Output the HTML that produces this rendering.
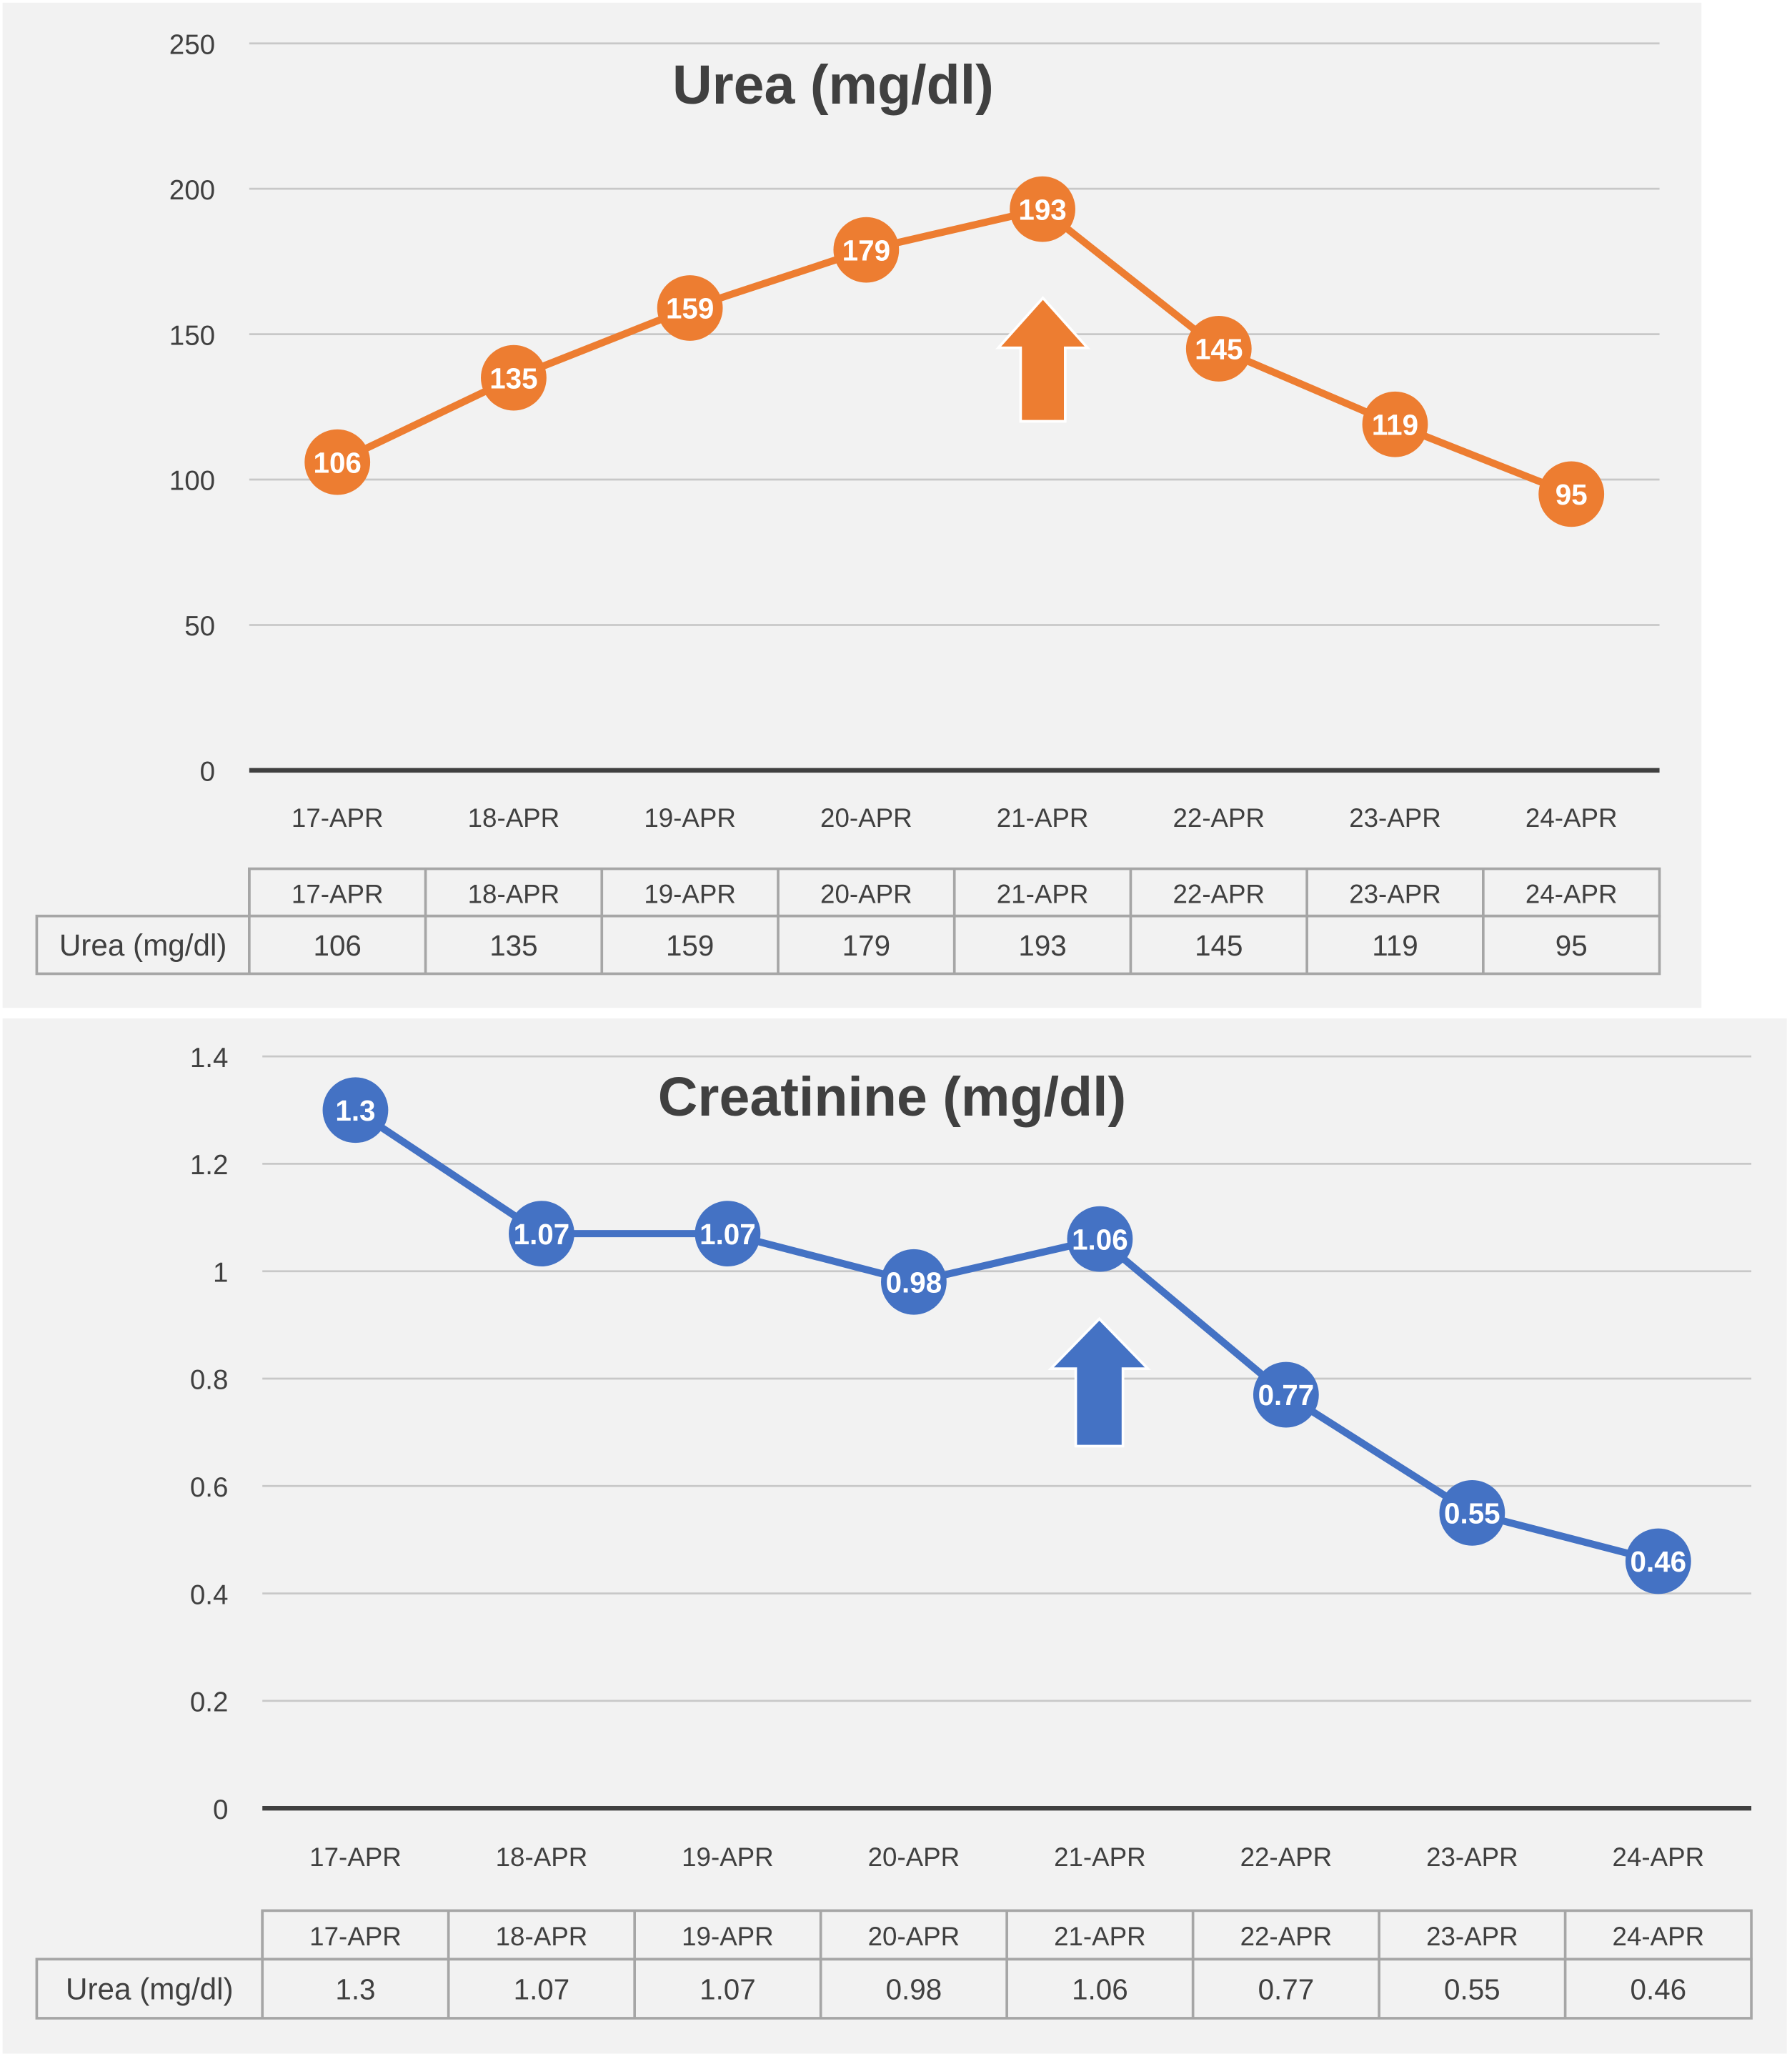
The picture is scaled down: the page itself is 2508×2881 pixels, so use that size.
<!DOCTYPE html>
<html><head><meta charset="utf-8"><style>
html,body{margin:0;padding:0;background:#fff}
svg{display:block}
text{font-family:"Liberation Sans",sans-serif}
</style></head><body>
<svg id="s" width="2508" height="2881" viewBox="0 0 1366 1569" xmlns="http://www.w3.org/2000/svg">
<rect x="0" y="0" width="1366" height="1569" fill="#fff"/>
<rect x="2" y="2" width="1295" height="766" fill="#f2f2f2"/>
<rect x="2" y="776" width="1360" height="789" fill="#f2f2f2"/>
<g id="g1"></g>
<g id="g2"></g>
</svg>
<script>
const dates = ["17-APR","18-APR","19-APR","20-APR","21-APR","22-APR","23-APR","24-APR"];
const ureaValues = [106,135,159,179,193,145,119,95];
const ureaLabels = ["106","135","159","179","193","145","119","95"];
const ureaTicks = [0,50,100,150,200,250];
const creatValues = [1.3,1.07,1.07,0.98,1.06,0.77,0.55,0.46];
const creatLabels = ["1.3","1.07","1.07","0.98","1.06","0.77","0.55","0.46"];
const creatTicks = [0,0.2,0.4,0.6,0.8,1.0,1.2,1.4];
const creatTickLabels = ["0","0.2","0.4","0.6","0.8","1","1.2","1.4"];
const NS="http://www.w3.org/2000/svg";
function mk(p,tag,a,txt){const e=document.createElementNS(NS,tag);for(const k in a)e.setAttribute(k,a[k]);if(txt!==undefined)e.textContent=txt;p.appendChild(e);return e;}
function draw(g,o){
  const y=v=>o.y0-(v-o.vmin)/(o.vmax-o.vmin)*(o.y0-o.y1);
  const bw=(o.x1-o.x0)/o.cats.length;
  const x=i=>o.x0+bw*(i+0.5);
  o.ticks.forEach((t,i)=>{
    if(t!==o.vmin){const l=mk(g,'line',{x1:o.x0,x2:o.x1,y1:y(t),y2:y(t),stroke:'#c8c8c8','stroke-width':1.5});
    
    }
    const tx=mk(g,'text',{x:o.x0-26,y:y(t)+8,'text-anchor':'end','font-size':21,fill:'#404040'},o.tickLabels[i]);
    
    
  });
  const ax=mk(g,'line',{x1:o.x0,x2:o.x1,y1:y(o.vmin),y2:y(o.vmin),stroke:'#404040','stroke-width':3.5});
  
  
  const tt=mk(g,'text',{x:o.tx,y:o.ty,'text-anchor':'middle','font-size':42,'font-weight':'bold',fill:'#404040'},o.title);
  
  
  // arrow
  const ah=o.arrow;
  const ar=mk(g,'polygon',{points:`${ah.cx},${ah.top} ${ah.cx+ah.hw},${ah.top+ah.hh} ${ah.cx+ah.sw},${ah.top+ah.hh} ${ah.cx+ah.sw},${ah.bot} ${ah.cx-ah.sw},${ah.bot} ${ah.cx-ah.sw},${ah.top+ah.hh} ${ah.cx-ah.hw},${ah.top+ah.hh}`,fill:o.color,stroke:'#fff','stroke-width':2});
  
  
  const pl=mk(g,'polyline',{points:o.vals.map((v,i)=>x(i)+','+y(v)).join(' '),fill:'none',stroke:o.color,'stroke-width':5.5,'stroke-linejoin':'round'});
  
  
  o.vals.forEach((v,i)=>{
    const c=mk(g,'circle',{cx:x(i),cy:y(v),r:25,fill:o.color});
    
    
    const t=mk(g,'text',{x:x(i),y:y(v)+8,'text-anchor':'middle','font-size':22,'font-weight':'bold',fill:'#fff'},o.labels[i]);
    
    
  });
  o.cats.forEach((c,i)=>{
    const t=mk(g,'text',{x:x(i),y:o.xly,'text-anchor':'middle','font-size':20,fill:'#404040'},c);
    
    
  });
  // table
  const T=o.tbl;
  const r1=mk(g,'rect',{x:o.x0,y:T.y0,width:o.x1-o.x0,height:T.y1-T.y0,fill:'none',stroke:'#a6a6a6','stroke-width':2});
  
  
  const r2=mk(g,'rect',{x:T.lx,y:T.y1,width:o.x1-T.lx,height:T.y2-T.y1,fill:'none',stroke:'#a6a6a6','stroke-width':2});
  
  
  for(let i=0;i<o.cats.length;i++){
    const l=mk(g,'line',{x1:o.x0+bw*i,x2:o.x0+bw*i,y1:T.y0,y2:T.y2,stroke:'#a6a6a6','stroke-width':2});
    
    
    const h=mk(g,'text',{x:x(i),y:(T.y0+T.y1)/2+8,'text-anchor':'middle','font-size':20,fill:'#404040'},o.cats[i]);
    
    
    const d=mk(g,'text',{x:x(i),y:(T.y1+T.y2)/2+8,'text-anchor':'middle','font-size':22,fill:'#404040'},o.labels[i]);
    
    
  }
  const rl=mk(g,'text',{x:(T.lx+o.x0)/2,y:(T.y1+T.y2)/2+8,'text-anchor':'middle','font-size':23,fill:'#404040'},'Urea (mg/dl)');
  
  
}
draw(document.getElementById('g1'),{x0:190,x1:1265,y0:587,y1:33,vmin:0,vmax:250,ticks:ureaTicks,tickLabels:ureaTicks.map(String),
  vals:ureaValues,labels:ureaLabels,cats:dates,color:'#ed7d31',title:'Urea (mg/dl)',tx:635,ty:79,xly:630,
  arrow:{cx:795,top:227,bot:321,hw:34,hh:38,sw:17},tbl:{lx:28,y0:662,y1:698,y2:742}});
draw(document.getElementById('g2'),{x0:200,x1:1335,y0:1378,y1:805,vmin:0,vmax:1.4,ticks:creatTicks,tickLabels:creatTickLabels,
  vals:creatValues,labels:creatLabels,cats:dates,color:'#4472c4',title:'Creatinine (mg/dl)',tx:680,ty:850,xly:1422,
  arrow:{cx:838,top:1005,bot:1102,hw:37,hh:38,sw:18},tbl:{lx:28,y0:1456,y1:1493,y2:1538}});
</script>
</body></html>
